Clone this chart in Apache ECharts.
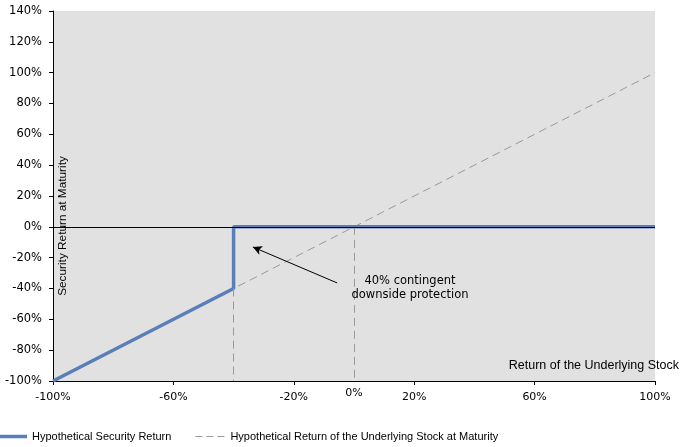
<!DOCTYPE html>
<html><head><meta charset="utf-8">
<script src="https://cdn.jsdelivr.net/npm/echarts@6/dist/echarts.min.js"></script>
<style>html,body{margin:0;padding:0;background:#fff}#c{width:684px;height:447px}</style>
</head><body><div id="c"></div>
<script>
// Data
const stockX = [-100, 100];
const stockY = [-100, 100];
const securityX = [-100, -40, -40, 100];
const securityY = [-100, -40, 0, 0];
const dropLinesX = [-40, 0];
const xTicks = {min: -100, max: 100, interval: 40};
const yTicks = {min: -100, max: 140, interval: 20};
const annotationText = '40% contingent\ndownside protection';
const arrowFrom = [-5.6, -36.4];
const arrowTo = [-33.6, -13.1];
const annotationAt = [18.6, -39.7];

const chart = echarts.init(document.getElementById('c'), null, {renderer: 'canvas'});
const pct = v => v + '%';
const font = 'DejaVu Sans, Verdana, sans-serif';
const font2 = 'Liberation Sans, Arial, sans-serif';

const stockData = stockX.map((x, i) => [x, stockY[i]]);
const secData = securityX.map((x, i) => [x, securityY[i]]);
const stockAt = x => stockY[0] + (x - stockX[0]) * (stockY[1] - stockY[0]) / (stockX[1] - stockX[0]);
const dropLines = dropLinesX.map(x => [
  {coord: [x, stockAt(x)], symbol: 'none'},
  {coord: [x, yTicks.min], symbol: 'none',
    label: {show: x === 0, position: 'end', formatter: pct(x), color: '#000', fontSize: 11, fontFamily: font, distance: 7}}
]);

chart.setOption({
  animation: false,
  grid: {left: 53, right: 29, top: 11, bottom: 66, show: true, backgroundColor: '#e1e1e1', borderWidth: 0},
  xAxis: {
    type: 'value', min: xTicks.min, max: xTicks.max, interval: xTicks.interval,
    axisLine: {show: true, onZero: false, lineStyle: {color: '#000', width: 1}},
    axisTick: {show: true, length: 4, lineStyle: {color: '#000'}},
    axisLabel: {formatter: pct, color: '#000', fontSize: 11, fontFamily: font, margin: 11},
    splitLine: {show: false}
  },
  yAxis: {
    type: 'value', min: yTicks.min, max: yTicks.max, interval: yTicks.interval,
    axisLine: {show: true, onZero: false, lineStyle: {color: '#000', width: 1}},
    axisTick: {show: true, length: 4, lineStyle: {color: '#000'}},
    axisLabel: {formatter: pct, color: '#000', fontSize: 11.5, fontFamily: font, margin: 11},
    splitLine: {show: false}
  },
  legend: {
    bottom: 5, left: -3, itemGap: 24, itemWidth: 30, itemHeight: 10, padding: 0,
    textStyle: {fontFamily: font2, fontSize: 11, color: '#000'},
    data: [
      {name: 'Hypothetical Security Return', icon: 'path://M0,0h30v3.5h-30z', itemStyle: {color: '#5a7fb8'}},
      {name: 'Hypothetical Return of the Underlying Stock at Maturity',
        icon: 'path://M0,0h7v1h-7zM11,0h7v1h-7zM22,0h7v1h-7zM30,0h0v1h0z', itemStyle: {color: '#999'}}
    ]
  },
  series: [
    {
      name: 'Hypothetical Return of the Underlying Stock at Maturity', type: 'line', data: stockData,
      symbol: 'none', z: 2,
      lineStyle: {color: '#999', width: 1, type: [8, 5]},
      itemStyle: {color: '#999'},
      markLine: {
        silent: true, symbol: 'none',
        lineStyle: {color: '#999', width: 1, type: [8, 5]},
        label: {show: false},
        data: dropLines
      }
    },
    {
      name: 'zero', type: 'line', data: [], z: 3,
      markLine: {silent: true, symbol: 'none', label: {show: false},
        lineStyle: {color: '#000', width: 1, type: 'solid'},
        data: [{yAxis: 0}]}
    },
    {
      name: 'Hypothetical Security Return', type: 'line', data: secData,
      symbol: 'none', z: 4,
      lineStyle: {color: '#5a7fb8', width: 3.5},
      itemStyle: {color: '#5a7fb8'}
    },
    {
      name: 'arrow', type: 'line', data: [], z: 5,
      markLine: {silent: true, symbol: ['none', 'arrow'], symbolSize: [7, 9],
        label: {show: false},
        lineStyle: {color: '#000', width: 1, type: 'solid'},
        data: [[{coord: arrowFrom}, {coord: arrowTo}]]}
    }
  ]
});

const p = chart.convertToPixel({gridIndex: 0}, annotationAt);
chart.setOption({
  graphic: [
    {type: 'text', x: p[0], y: p[1], z: 10,
      style: {text: annotationText, fill: '#000', font: '11.5px ' + font, align: 'center', verticalAlign: 'middle', lineHeight: 14}},
    {type: 'text', x: 679, y: 366, z: 10,
      style: {text: 'Return of the Underlying Stock', fill: '#000', font: '12.5px ' + font2, align: 'right', verticalAlign: 'middle'}},
    {type: 'text', x: 63, y: 226, rotation: Math.PI / 2, z: 10,
      style: {text: 'Security Return at Maturity', fill: '#000', font: '11.8px ' + font2, align: 'center', verticalAlign: 'middle'}}
  ]
});
</script>
</body></html>
